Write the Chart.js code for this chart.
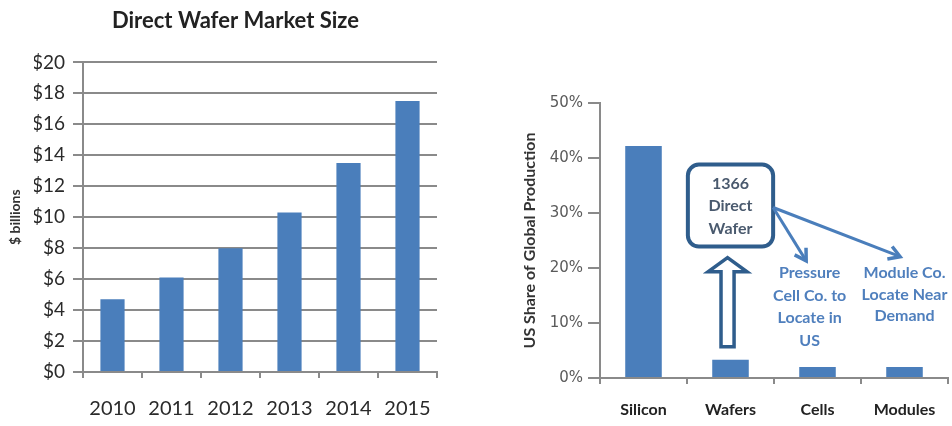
<!DOCTYPE html>
<html>
<head>
<meta charset="utf-8">
<script src="https://cdn.jsdelivr.net/npm/chart.js@4"></script>
<style>
  html, body { margin:0; padding:0; background:#fff; }
  #wrap { position:relative; width:952px; height:426px; overflow:hidden; }
  #left { position:absolute; left:0; top:0; }
  #right { position:absolute; left:480px; top:0; }
</style>
</head>
<body>
<div id="wrap">
  <canvas id="left" width="480" height="426"></canvas>
  <canvas id="right" width="472" height="426"></canvas>
</div>
<script>
// left chart data
const years = ['2010', '2011', '2012', '2013', '2014', '2015'];
const marketSize = [4.7, 6.1, 8.0, 10.3, 13.5, 17.5];
const marketTicks = [0, 2, 4, 6, 8, 10, 12, 14, 16, 18, 20];

// right chart data
const stages = ['Silicon', 'Wafers', 'Cells', 'Modules'];
const usShare = [42.2, 3.3, 2.0, 2.0];
const shareTicks = [0, 10, 20, 30, 40, 50];

const BLUE = '#4a7ebb';
const GRID = '#8a8a8a';

// annotations for the right chart (category index, % value)
const note1366 = ['1366', 'Direct', 'Wafer'];
const noteCells = ['Pressure', 'Cell Co. to', 'Locate in', 'US'];
const noteModules = ['Module Co.', 'Locate Near', 'Demand'];

new Chart(document.getElementById('left'), {
  type: 'bar',
  data: {
    labels: years,
    datasets: [{
      data: marketSize,
      backgroundColor: BLUE,
      barPercentage: 0.41,
      categoryPercentage: 1
    }]
  },
  options: {
    responsive: false,
    animation: false,
    layout: { padding: { left: 34, right: 43, top: 0, bottom: 0 } },
    plugins: {
      legend: { display: false },
      tooltip: { enabled: false },
      title: {
        display: true,
        text: 'Direct Wafer Market Size',
        color: '#222',
        font: { family: 'Lato', size: 22, weight: 'bold' },
        padding: { top: 8, bottom: 28 }
      }
    },
    scales: {
      x: {
        afterFit: s => { s.height = 54; },
        grid: { display: true, drawOnChartArea: false, color: GRID, lineWidth: 2, tickLength: 6, offset: true },
        border: { color: GRID, width: 2 },
        ticks: { color: '#2a2a2a', font: { family: 'Lato', size: 20 }, padding: 19 }
      },
      y: {
        min: 0, max: 20,
        afterFit: s => { s.width = 49; },
        afterBuildTicks: s => { s.ticks = marketTicks.map(v => ({ value: v })); },
        grid: { color: GRID, lineWidth: 2, tickLength: 10 },
        border: { color: GRID, width: 2 },
        ticks: { color: '#2a2a2a', font: { family: 'Lato', size: 19 }, padding: 8, callback: v => '$' + v },
        title: { display: true, text: '$ billions', color: '#333', font: { family: 'Lato', size: 14, weight: 'bold' }, padding: { top: -27, bottom: 0 } }
      }
    }
  }
});

const notesPlugin = {
  id: 'notes',
  afterDatasetsDraw(chart) {
    const { ctx, scales: { x, y } } = chart;
    const step = x.getPixelForValue(1) - x.getPixelForValue(0);
    const X = c => x.getPixelForValue(0) + c * step;
    const Y = v => y.getPixelForValue(v);
    ctx.save();

    // rounded box
    const bx0 = X(0.51), bx1 = X(1.49), by0 = Y(38.8), by1 = Y(23.9), r = 11;
    ctx.beginPath();
    ctx.roundRect(bx0, by0, bx1 - bx0, by1 - by0, r);
    ctx.fillStyle = '#fff';
    ctx.fill();
    ctx.lineWidth = 4;
    ctx.strokeStyle = '#2f5d8c';
    ctx.stroke();
    ctx.fillStyle = '#4a5a6e';
    ctx.font = 'bold 16px Lato';
    ctx.textAlign = 'center';
    ctx.textBaseline = 'middle';
    note1366.forEach((t, i) => ctx.fillText(t, (bx0 + bx1) / 2, by0 + 19 + i * 22.5));

    // hollow up arrow
    const ac = X(0.966), hw = 0.224 * step, sw = 0.075 * step;
    const aTop = Y(21.9), aBase = Y(19.3), aBot = Y(5.7);
    ctx.beginPath();
    ctx.moveTo(ac, aTop);
    ctx.lineTo(ac + hw, aBase);
    ctx.lineTo(ac + sw, aBase);
    ctx.lineTo(ac + sw, aBot);
    ctx.lineTo(ac - sw, aBot);
    ctx.lineTo(ac - sw, aBase);
    ctx.lineTo(ac - hw, aBase);
    ctx.closePath();
    ctx.fillStyle = '#fff';
    ctx.fill();
    ctx.lineWidth = 3.5;
    ctx.lineJoin = 'miter';
    ctx.strokeStyle = '#2f5d8c';
    ctx.stroke();

    // pointer arrows
    const arrow = (x0, y0, x1, y1) => {
      ctx.beginPath();
      ctx.moveTo(x0, y0);
      ctx.lineTo(x1, y1);
      ctx.lineWidth = 3;
      ctx.strokeStyle = BLUE;
      ctx.stroke();
      const a = Math.atan2(y1 - y0, x1 - x0), L = 13;
      ctx.beginPath();
      ctx.moveTo(x1 + L * Math.cos(a + 2.6), y1 + L * Math.sin(a + 2.6));
      ctx.lineTo(x1, y1);
      ctx.lineTo(x1 + L * Math.cos(a - 2.6), y1 + L * Math.sin(a - 2.6));
      ctx.lineWidth = 3.5;
      ctx.lineJoin = 'miter';
      ctx.stroke();
    };
    arrow(X(1.49), Y(31.0), X(1.87), Y(21.3));
    arrow(X(1.49), Y(31.0), X(2.95), Y(22.05));

    // labels
    ctx.fillStyle = '#4f7fbd';
    ctx.font = 'bold 16px Lato';
    noteCells.forEach((t, i) => ctx.fillText(t, X(1.91), Y(19.1) + i * 22.5));
    noteModules.forEach((t, i) => ctx.fillText(t, X(3.0), Y(19.1) + i * 21.5));
    ctx.restore();
  }
};

new Chart(document.getElementById('right'), {
  type: 'bar',
  data: {
    labels: stages,
    datasets: [{
      data: usShare,
      backgroundColor: BLUE,
      barPercentage: 0.42,
      categoryPercentage: 1
    }]
  },
  plugins: [notesPlugin],
  options: {
    responsive: false,
    animation: false,
    layout: { padding: { left: 0, right: 4, top: 103, bottom: 0 } },
    plugins: {
      legend: { display: false },
      tooltip: { enabled: false }
    },
    scales: {
      x: {
        afterFit: s => { s.height = 48; },
        grid: { display: true, drawOnChartArea: false, color: GRID, lineWidth: 2, tickLength: 6, offset: true },
        border: { color: GRID, width: 2 },
        ticks: { color: '#222', font: { family: 'Lato', size: 16, weight: 'bold' }, padding: 16 }
      },
      y: {
        min: 0, max: 50,
        afterFit: s => { s.width = 120; },
        afterBuildTicks: s => { s.ticks = shareTicks.map(v => ({ value: v })); },
        grid: { drawOnChartArea: false, color: GRID, lineWidth: 2, tickLength: 12 },
        border: { color: GRID, width: 2 },
        ticks: { color: '#5a5a5a', font: { family: 'DejaVu Sans', size: 15 }, padding: 5, callback: v => v + '%' },
        title: { display: true, text: 'US Share of Global Production', color: '#333', font: { family: 'Lato', size: 16, weight: 'bold' }, padding: { top: 40, bottom: 0 } }
      }
    }
  }
});
</script>
</body>
</html>
